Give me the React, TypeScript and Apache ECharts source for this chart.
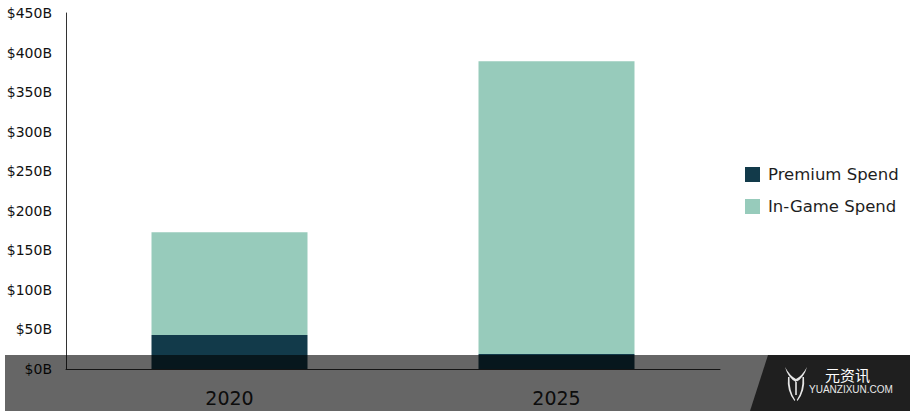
import React, { useEffect, useRef } from "react";
import * as echarts from "echarts";

const categories = ["2020", "2025"];
const premiumSpend = [43, 19];
const inGameSpend = [130, 370];
const seriesNames = ["Premium Spend", "In-Game Spend"];
const yMax = 450;
const yInterval = 50;

const LOGO_D =
  "M0 1 Q5 10 11 13 L11 16 Q3 12 0 1 Z " +
  "M22 1 Q17 10 11 13 L11 16 Q19 12 22 1 Z " +
  "M10.2 15 L11.8 15 L11.8 29 L10.2 29 Z " +
  "M3 11 Q1.5 25 9.5 35 L10.2 34 Q4 25 4.5 11 Z " +
  "M19 11 Q20.5 25 12.5 35 L11.8 34 Q18 25 17.5 11 Z";

let registered = false;

export default function App() {
  const ref = useRef<HTMLDivElement>(null);
  useEffect(() => {
    if (!ref.current) return;
    if (!registered) {
      echarts.graphic.registerShape("logo", echarts.graphic.extendPath(LOGO_D, {}));
      registered = true;
    }
    const chart = echarts.init(ref.current, null, { renderer: "svg" });
    chart.setOption({
      animation: false,
      backgroundColor: "#ffffff",
      grid: { left: 66, right: 190, top: 13, bottom: 42 },
      legend: {
        orient: "vertical",
        left: 740,
        top: 161,
        itemWidth: 15,
        itemHeight: 15,
        itemGap: 15,
        icon: "rect",
        data: seriesNames,
        textStyle: {
          fontFamily: "DejaVu Sans",
          fontSize: 16.5,
          lineHeight: 16,
          color: "#1e1e1e",
          padding: [0, 0, 0, 3],
        },
      },
      xAxis: {
        type: "category",
        data: categories,
        axisLine: { show: true, lineStyle: { color: "#333", width: 1 } },
        axisTick: { show: false },
        axisLabel: {
          margin: 19,
          fontFamily: "DejaVu Sans",
          fontSize: 19,
          color: "#222",
        },
      },
      yAxis: {
        type: "value",
        min: 0,
        max: yMax,
        interval: yInterval,
        axisLine: { show: true, lineStyle: { color: "#333", width: 1 } },
        axisTick: { show: false },
        splitLine: { show: false },
        axisLabel: {
          margin: 14,
          fontFamily: "DejaVu Sans",
          fontSize: 14,
          color: "#111",
          formatter: (v: number) => `$${v}B`,
        },
      },
      series: [
        {
          name: seriesNames[0],
          type: "bar",
          stack: "total",
          barWidth: 156,
          itemStyle: { color: "#123a4a" },
          data: premiumSpend,
        },
        {
          name: seriesNames[1],
          type: "bar",
          stack: "total",
          barWidth: 156,
          itemStyle: { color: "#97cbbb" },
          data: inGameSpend,
        },
      ],
      graphic: [
        {
          type: "rect",
          z: 100,
          shape: { x: 5, y: 355, width: 905, height: 56 },
          style: { fill: "rgba(0,0,0,0.6)" },
        },
        {
          type: "polygon",
          z: 101,
          shape: {
            points: [
              [768, 355],
              [910, 355],
              [910, 411],
              [750, 411],
            ],
          },
          style: { fill: "#1f1f1f" },
        },
        {
          type: "logo",
          z: 102,
          x: 785,
          y: 366,
          scaleX: 1,
          scaleY: 1,
          style: { fill: "#e6e6e6" },
        },
        {
          type: "text",
          z: 102,
          x: 825,
          y: 367,
          style: {
            text: "元资讯",
            fill: "#ffffff",
            font: '15px "Noto Sans CJK SC"',
          },
        },
        {
          type: "text",
          z: 102,
          x: 809,
          y: 384,
          style: {
            text: "YUANZIXUN.COM",
            fill: "#e8e8e8",
            font: '10px "Liberation Sans", sans-serif',
          },
        },
      ],
    });
    return () => chart.dispose();
  }, []);
  return (
    <div
      ref={ref}
      style={{ position: "absolute", left: 0, top: 0, width: 910, height: 411 }}
    />
  );
}
